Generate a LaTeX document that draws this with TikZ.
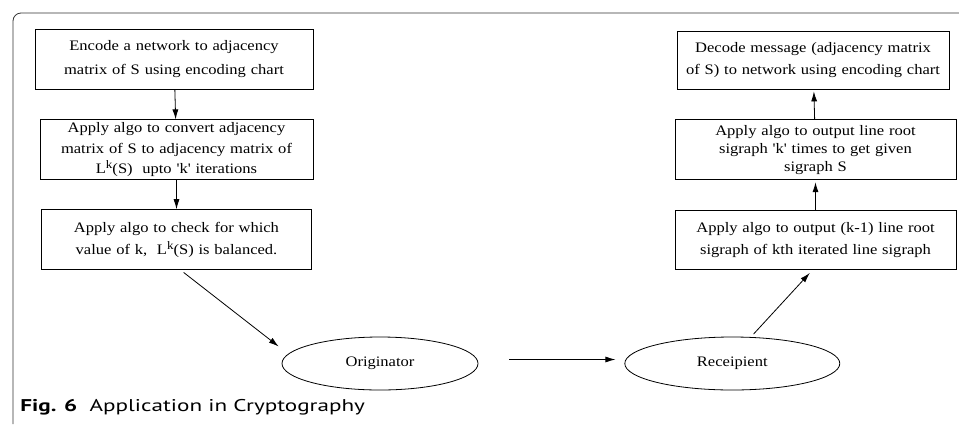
\documentclass[tikz,border=0pt]{standalone}
\usepackage{fontspec}
\setmainfont{Liberation Serif}[Ligatures=TeXOff, FakeStretch=1.14]
\newfontfamily\capfont{PT Sans}[FakeStretch=1.36]
\newcommand{\supk}{\raisebox{5pt}{\fontsize{11.5}{12}\selectfont k}}
\usetikzlibrary{arrows.meta, positioning, shapes.geometric}

\begin{document}
\begin{tikzpicture}[x=1pt, y=-1pt, ->, >={Latex[length=10pt,width=6pt]}, line width=0.8pt, node distance=30pt]
        \tikzstyle{stepbox}=[draw=black, fill=white, text=black, align=center, inner sep=0pt, minimum height=60pt]
        \tikzstyle{party}=[draw=black, ellipse, inner sep=0pt, minimum height=53pt]

        \useasboundingbox (0,0) rectangle (959,424);
        % frame round the figure
        \draw[-, black!80, rounded corners=8pt] (959,13) -- (13,13) -- (13,424);

        % sender side
        \node[stepbox, text width=278pt, font=\fontsize{14.5}{24}\selectfont] (L1) at (174,59)
            {Encode a network to adjacency\\matrix of S using encoding chart};
        \node[stepbox, text width=273pt, font=\fontsize{14.5}{20.5}\selectfont] (L2) [below=30pt of L1, xshift=2.5pt]
            {Apply algo to convert adjacency\\matrix of S to adjacency matrix of\\L\supk(S)\ \ upto 'k' iterations};
        \node[stepbox, text width=270pt, font=\fontsize{14.5}{22}\selectfont] (L3) [below=29pt of L2]
            {Apply algo to check for which\\value of k,\ \ L\supk(S) is balanced.};

        % receiver side
        \node[stepbox, text width=272pt, minimum height=58pt, font=\fontsize{14.5}{22}\selectfont] (R1) at (813,60)
            {Decode message (adjacency matrix\\of S) to network using encoding chart};
        \node[stepbox, text width=281pt, font=\fontsize{14.5}{18}\selectfont] (R2) [below=30pt of R1, xshift=2.5pt]
            {Apply algo to output line root\\sigraph 'k' times to get given\\sigraph S};
        \node[stepbox, text width=281pt, minimum height=59pt, font=\fontsize{14.5}{21.5}\selectfont] (R3) [below=30pt of R2]
            {Apply algo to output (k-1) line root\\sigraph of kth iterated line sigraph};

        % the two parties
        \node[party, minimum width=196pt, font=\fontsize{14.5}{16}\selectfont] (O) at (380,363.5) {Originator};
        \node[party, minimum width=215pt, font=\fontsize{14.5}{16}\selectfont] (R) [right=146pt of O] {Receipient};

        \node[anchor=base west, inner sep=0pt, font=\capfont\fontsize{17}{20}\selectfont] (cap) at (20,411)
            {\textbf{Fig. 6}\ \ Application in Cryptography};

        \path (L1) edge (L2)
              (L2) edge (L3)
              ([xshift=4pt]L3.south) edge [shorten <=4pt, shorten >=12pt] (O.174)
              ([yshift=4pt]O.east) edge [shorten <=31pt, shorten >=9pt] ([yshift=4pt]R.west)
              (R.55) edge [shorten <=4pt, shorten >=4pt] ([xshift=-3pt]R3.south)
              (R3) edge [shorten >=2pt] (R2)
              (R2) edge [shorten >=2pt] (R1);
    \end{tikzpicture}
\end{document}
